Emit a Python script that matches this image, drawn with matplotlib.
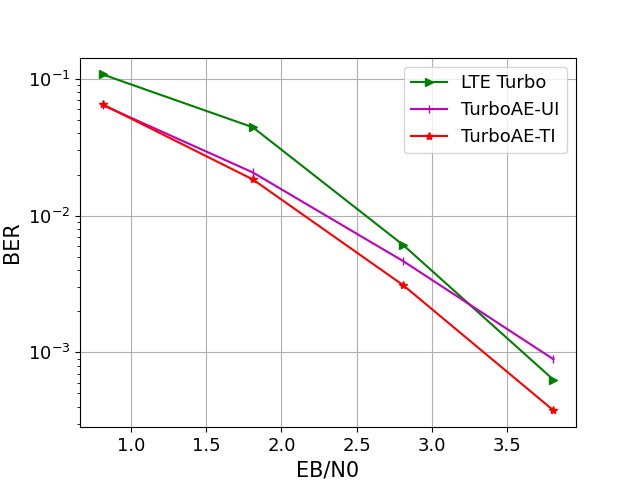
import matplotlib
matplotlib.use("Agg")
import matplotlib.pyplot as plt

ebn0 = [0.81, 1.81, 2.81, 3.81]
lte_turbo = [0.108, 0.0443, 0.0061, 0.00063]
turboae_ui = [0.0645, 0.0207, 0.00465, 0.00089]
turboae_ti = [0.0652, 0.0184, 0.0031, 0.000376]

fig, ax = plt.subplots(figsize=(6.4, 4.8), dpi=100)
ax.plot(ebn0, lte_turbo, color='g', marker='>', label='LTE Turbo')
ax.plot(ebn0, turboae_ui, color='m', marker='|', label='TurboAE-UI')
ax.plot(ebn0, turboae_ti, color='r', marker='*', label='TurboAE-TI')
ax.set_yscale('log')
ax.grid(True)
ax.set_xlabel('EB/N0', fontsize=15)
ax.set_ylabel('BER', fontsize=15)
ax.tick_params(labelsize=13)
ax.legend(fontsize=13, loc='upper right')
fig.savefig('out.png')
